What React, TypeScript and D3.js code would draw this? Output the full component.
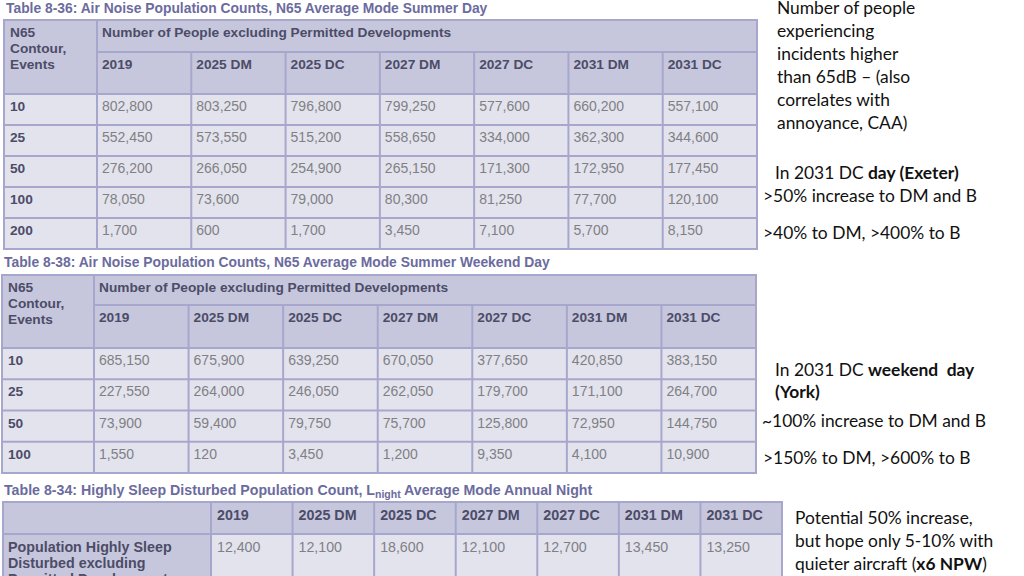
import React from "react";
import * as d3 from "d3";

// ---------- DATA ----------
const years = ["2019", "2025 DM", "2025 DC", "2027 DM", "2027 DC", "2031 DM", "2031 DC"];

const dayTitle = "Table 8-36: Air Noise Population Counts, N65 Average Mode Summer Day";
const dayContours = ["10", "25", "50", "100", "200"];
const dayValues = [
  [802800, 803250, 796800, 799250, 577600, 660200, 557100],
  [552450, 573550, 515200, 558650, 334000, 362300, 344600],
  [276200, 266050, 254900, 265150, 171300, 172950, 177450],
  [78050, 73600, 79000, 80300, 81250, 77700, 120100],
  [1700, 600, 1700, 3450, 7100, 5700, 8150],
];

const weekendTitle = "Table 8-38: Air Noise Population Counts, N65 Average Mode Summer Weekend Day";
const weekendContours = ["10", "25", "50", "100"];
const weekendValues = [
  [685150, 675900, 639250, 670050, 377650, 420850, 383150],
  [227550, 264000, 246050, 262050, 179700, 171100, 264700],
  [73900, 59400, 79750, 75700, 125800, 72950, 144750],
  [1550, 120, 3450, 1200, 9350, 4100, 10900],
];

const nightTitleParts = ["Table 8-34: Highly Sleep Disturbed Population Count, L", "night", " Average Mode Annual Night"];
const nightRowLabel = ["Population Highly Sleep", "Disturbed excluding", "Permitted Developments"];
const nightValues = [12400, 12100, 18600, 12100, 12700, 13450, 13250];

const firstColHeader = ["N65", "Contour,", "Events"];
const groupHeader = "Number of People excluding Permitted Developments";

// ---------- STYLE ----------
const HEAD_BG = "#c6c7dc";
const BODY_BG = "#e3e3ee";
const BORDER = "#a7a7cd";
const TITLE_C = "#6b6b9e";
const HEAD_C = "#4c4c68";
const DATA_C = "#808084";
const TFONT = "'Liberation Sans', Arial, sans-serif";
const NFONT = "Lato, 'Open Sans', sans-serif";
const TITLE_FS = 13.85;
const HEAD_FS = 13.7;
const fmt = d3.format(",");

type N65Props = {
  title: string;
  contours: string[];
  values: number[][];
  left: number;
  firstRight: number;
  right: number;
  top: number;
  head1: number;
  headBottom: number;
  bottom: number;
  titleY: number;
};

function N65Table(p: N65Props) {
  const x = d3.scaleBand<string>().domain(years).range([p.firstRight, p.right]);
  const y = d3.scaleBand<string>().domain(p.contours).range([p.headBottom, p.bottom]);
  const bh = y.bandwidth();
  return (
    <g>
      <text x={p.left + 2} y={p.titleY} fontFamily={TFONT} fontWeight="bold" fontSize={TITLE_FS} fill={TITLE_C}>
        {p.title}
      </text>
      <rect x={p.left} y={p.top} width={p.right - p.left} height={p.headBottom - p.top} fill={HEAD_BG} />
      {p.contours.map((c, i) => (
        <g key={c}>
          <rect x={p.left} y={y(c)!} width={p.right - p.left} height={bh} fill={BODY_BG} />
          <text x={p.left + 6} y={y(c)! + 17} fontFamily={TFONT} fontWeight="bold" fontSize={HEAD_FS} fill={HEAD_C}>
            {c}
          </text>
          {p.values[i].map((v, j) => (
            <text key={j} x={x(years[j])! + 5} y={y(c)! + 17} fontFamily={TFONT} fontSize={14} fill={DATA_C}>
              {fmt(v)}
            </text>
          ))}
        </g>
      ))}
      {firstColHeader.map((t, i) => (
        <text key={t} x={p.left + 6} y={p.top + 17 + i * 16} fontFamily={TFONT} fontWeight="bold" fontSize={HEAD_FS} fill={HEAD_C}>
          {t}
        </text>
      ))}
      <text x={p.firstRight + 5} y={p.top + 17} fontFamily={TFONT} fontWeight="bold" fontSize={HEAD_FS} fill={HEAD_C}>
        {groupHeader}
      </text>
      {years.map((yr) => (
        <text key={yr} x={x(yr)! + 5} y={p.head1 + 17} fontFamily={TFONT} fontWeight="bold" fontSize={HEAD_FS} fill={HEAD_C}>
          {yr}
        </text>
      ))}
      <g stroke={BORDER} strokeWidth={2} fill="none">
        <rect x={p.left} y={p.top} width={p.right - p.left} height={p.bottom - p.top} />
        <line x1={p.firstRight} x2={p.right} y1={p.head1} y2={p.head1} />
        <line x1={p.firstRight} x2={p.firstRight} y1={p.top} y2={p.bottom} />
        {years.slice(1).map((yr) => (
          <line key={yr} x1={x(yr)!} x2={x(yr)!} y1={p.head1} y2={p.bottom} />
        ))}
        {p.contours.map((c) => (
          <line key={c} x1={p.left} x2={p.right} y1={y(c)!} y2={y(c)!} />
        ))}
      </g>
    </g>
  );
}

function NightTable() {
  const left = 3, firstRight = 211, right = 782, top = 502, headBottom = 534, bottom = 610;
  const fs = 14.3;
  const x = d3.scaleBand<string>().domain(years).range([firstRight, right]);
  return (
    <g>
      <text x={left + 1} y={495} fontFamily={TFONT} fontWeight="bold" fontSize={14.2} fill={TITLE_C}>
        {nightTitleParts[0]}
        <tspan fontSize={10.5} dy={3}>{nightTitleParts[1]}</tspan>
        <tspan dy={-3}>{nightTitleParts[2]}</tspan>
      </text>
      <rect x={left} y={top} width={right - left} height={headBottom - top} fill={HEAD_BG} />
      <rect x={left} y={headBottom} width={firstRight - left} height={bottom - headBottom} fill={HEAD_BG} />
      <rect x={firstRight} y={headBottom} width={right - firstRight} height={bottom - headBottom} fill={BODY_BG} />
      {years.map((yr, j) => (
        <g key={yr}>
          <text x={x(yr)! + 6} y={top + 18} fontFamily={TFONT} fontWeight="bold" fontSize={fs} fill={HEAD_C}>
            {yr}
          </text>
          <text x={x(yr)! + 6} y={headBottom + 18} fontFamily={TFONT} fontSize={14.2} fill={DATA_C}>
            {fmt(nightValues[j])}
          </text>
        </g>
      ))}
      {nightRowLabel.map((t, i) => (
        <text key={t} x={left + 5} y={headBottom + 18 + i * 16} fontFamily={TFONT} fontWeight="bold" fontSize={fs} fill={HEAD_C}>
          {t}
        </text>
      ))}
      <g stroke={BORDER} strokeWidth={2} fill="none">
        <rect x={left} y={top} width={right - left} height={bottom - top} />
        <line x1={left} x2={right} y1={headBottom} y2={headBottom} />
        {years.map((yr) => (
          <line key={yr} x1={x(yr)!} x2={x(yr)!} y1={top} y2={bottom} />
        ))}
      </g>
    </g>
  );
}

type Seg = { t: string; b?: boolean };
const notes: { x: number; y: number; segs: Seg[] }[] = [
  { x: 777, y: 14, segs: [{ t: "Number of people" }] },
  { x: 777, y: 37, segs: [{ t: "experiencing" }] },
  { x: 777, y: 60, segs: [{ t: "incidents higher" }] },
  { x: 777, y: 83, segs: [{ t: "than 65dB – (also" }] },
  { x: 777, y: 106, segs: [{ t: "correlates with" }] },
  { x: 777, y: 129, segs: [{ t: "annoyance, CAA)" }] },
  { x: 775, y: 179, segs: [{ t: "In 2031 DC " }, { t: "day (Exeter)", b: true }] },
  { x: 763, y: 202, segs: [{ t: ">50% increase to DM and B" }] },
  { x: 763, y: 239, segs: [{ t: ">40% to DM, >400% to B" }] },
  { x: 775, y: 376, segs: [{ t: "In 2031 DC " }, { t: "weekend  day", b: true }] },
  { x: 775, y: 398, segs: [{ t: "(York)", b: true }] },
  { x: 762, y: 427, segs: [{ t: "~100% increase to DM and B" }] },
  { x: 763, y: 464, segs: [{ t: ">150% to DM, >600% to B" }] },
  { x: 795, y: 524, segs: [{ t: "Potential 50% increase," }] },
  { x: 795, y: 547, segs: [{ t: "but hope only 5-10% with" }] },
  { x: 795, y: 570, segs: [{ t: "quieter aircraft (" }, { t: "x6 NPW", b: true }, { t: ")" }] },
];

export default function App() {
  return (
    <svg width={1024} height={576} style={{ position: "fixed", left: 0, top: 0, background: "#fff" }}>
      <rect width={1024} height={576} fill="#fff" />
      <N65Table
        title={dayTitle}
        contours={dayContours}
        values={dayValues}
        left={4}
        firstRight={97}
        right={757}
        top={20}
        head1={52}
        headBottom={94}
        bottom={249}
        titleY={13}
      />
      <N65Table
        title={weekendTitle}
        contours={weekendContours}
        values={weekendValues}
        left={2}
        firstRight={94}
        right={756}
        top={275}
        head1={305}
        headBottom={348}
        bottom={473}
        titleY={267}
      />
      <NightTable />
      {notes.map((n, i) => (
        <text key={i} x={n.x} y={n.y} fontFamily={NFONT} fontSize={17.4} fill="#111">
          {n.segs.map((s, k) => (
            <tspan key={k} fontWeight={s.b ? "bold" : "normal"} style={{ whiteSpace: "pre" }}>
              {s.t}
            </tspan>
          ))}
        </text>
      ))}
    </svg>
  );
}
